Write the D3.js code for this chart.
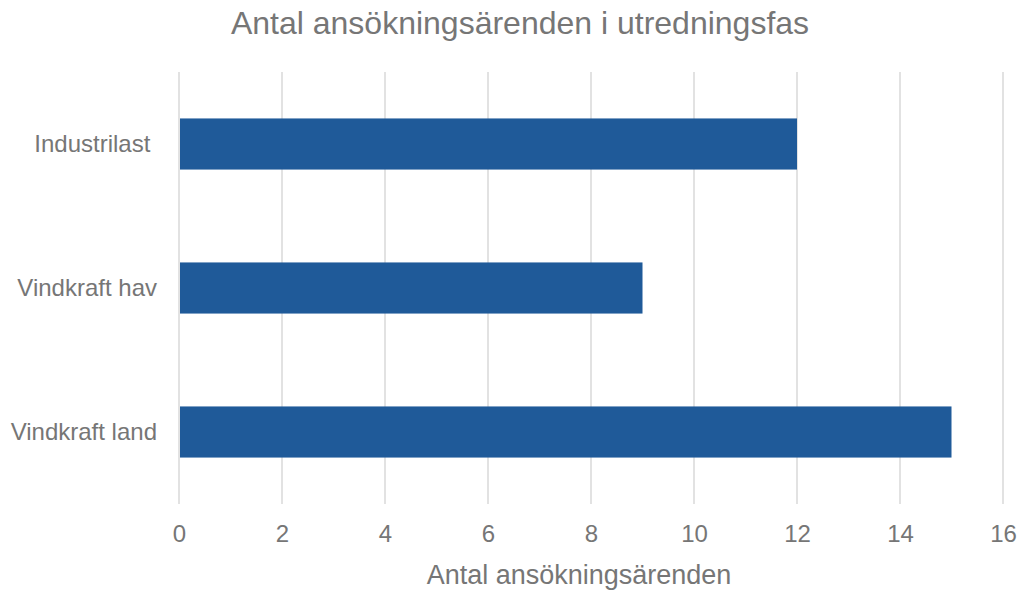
<!DOCTYPE html>
<html>
<head>
<meta charset="utf-8">
<script src="https://cdn.jsdelivr.net/npm/d3@7"></script>
<style>
  body { margin: 0; background: #fff; }
  svg text { font-family: Arial, "Liberation Sans", Helvetica, sans-serif; fill: #767676; white-space: pre; }
</style>
</head>
<body>
<div class="canvas"></div>
<script>
var categories = ["Industrilast ", "Vindkraft hav", "Vindkraft land"];
var values = [12, 9, 15];
var xTicks = [0, 2, 4, 6, 8, 10, 12, 14, 16];
var chartTitle = "Antal ansökningsärenden i utredningsfas";
var xTitle = "Antal ansökningsärenden";

var width = 1018, height = 590;
var svg = d3.select(".canvas").append("svg").attr("width", width).attr("height", height);

var data = categories.map(function(c, i) { return {cat: c, val: values[i]}; });

var scaleX = d3.scaleLinear().domain([0, 16]).range([179, 1003]);
var scaleY = d3.scaleBand().domain(categories).range([72, 504]).paddingInner(0.645).paddingOuter(0.3225);

// gridlines
svg.append("g")
  .selectAll("line")
  .data(xTicks)
  .enter()
  .append("line")
  .attr("x1", function(d) { return scaleX(d); })
  .attr("x2", function(d) { return scaleX(d); })
  .attr("y1", 72)
  .attr("y2", 504)
  .attr("stroke", "#d9d9d9")
  .attr("stroke-width", 1.5);

// bars
svg.append("g")
  .selectAll("rect")
  .data(data)
  .enter()
  .append("rect")
  .attr("x", scaleX(0) + 1)
  .attr("y", function(d) { return scaleY(d.cat); })
  .attr("width", function(d) { return scaleX(d.val) - scaleX(0) - 1; })
  .attr("height", scaleY.bandwidth())
  .attr("fill", "#1f5a99");

// x axis
var xAxis = d3.axisBottom(scaleX).tickValues(xTicks).tickSize(0).tickPadding(0);
var gx = svg.append("g").attr("transform", "translate(0,504)").call(xAxis);
gx.select(".domain").remove();
gx.selectAll("text").attr("y", 38).attr("dy", null).style("font-size", "24px").attr("fill", "#767676");

// y axis
var yAxis = d3.axisLeft(scaleY).tickSize(0).tickPadding(0);
var gy = svg.append("g").attr("transform", "translate(157,0)").call(yAxis);
gy.select(".domain").remove();
gy.selectAll("text").style("font-size", "24px").attr("fill", "#767676");

svg.append("text")
  .attr("x", 520).attr("y", 34)
  .attr("text-anchor", "middle")
  .style("font-size", "32px")
  .text(chartTitle);

svg.append("text")
  .attr("x", 579).attr("y", 584)
  .attr("text-anchor", "middle")
  .style("font-size", "27px")
  .text(xTitle);
</script>
</body>
</html>
